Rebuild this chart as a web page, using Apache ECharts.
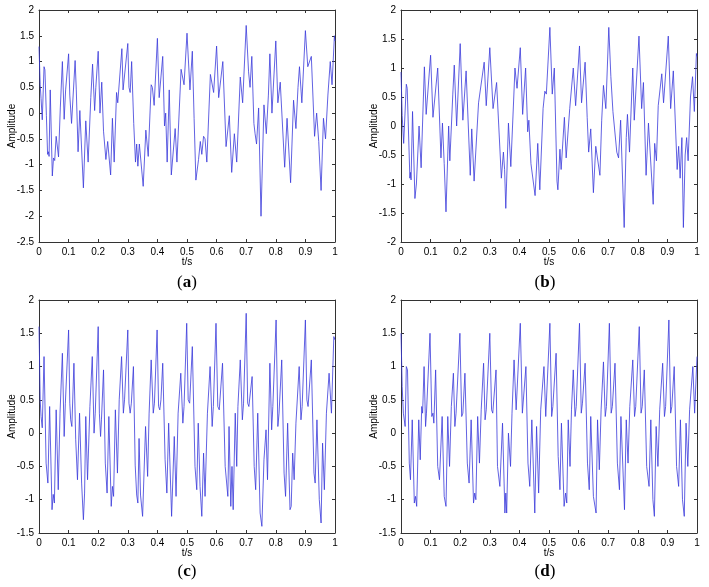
<!DOCTYPE html>
<html><head><meta charset="utf-8">
<script src="https://cdn.jsdelivr.net/npm/echarts@6/dist/echarts.min.js"></script>
<style>html,body{margin:0;padding:0;background:#fff}#c{width:709px;height:587px}</style>
</head><body><div id="c"></div>
<script>
// x axis ticks (t/s)
const tTicks = [0,0.1,0.2,0.3,0.4,0.5,0.6,0.7,0.8,0.9,1];
const yTicksA = [-2.5,-2,-1.5,-1,-0.5,0,0.5,1,1.5,2];
const yTicksB = [-2,-1.5,-1,-0.5,0,0.5,1,1.5,2];
const yTicksCD = [-1.5,-1,-0.5,0,0.5,1,1.5,2];
const captions = ['a','b','c','d'];

// (a) signal: [t, amplitude]
const sigA = [[0,1.29],[0.004,0.55],[0.007,0.28],[0.011,-0.13],[0.017,0.9],[0.02,0.84],[0.025,-0.05],[0.029,-0.8],[0.032,-0.75],[0.034,-0.84],[0.038,0.45],[0.045,-1.22],[0.049,-0.87],[0.053,-0.92],[0.058,-0.45],[0.066,-0.85],[0.072,0.1],[0.079,1.0],[0.085,-0.12],[0.09,0.45],[0.1,1.15],[0.104,0.35],[0.11,-0.2],[0.122,1.02],[0.126,0.45],[0.132,-0.75],[0.138,0.05],[0.15,-1.45],[0.158,-0.15],[0.166,-0.95],[0.175,0.3],[0.181,0.95],[0.188,0.05],[0.192,0.5],[0.2,1.2],[0.206,0.0],[0.212,0.6],[0.218,-0.35],[0.226,-0.9],[0.232,-0.55],[0.242,-1.2],[0.248,-0.1],[0.254,-0.95],[0.262,0.4],[0.266,0.2],[0.28,1.25],[0.284,0.45],[0.29,0.45],[0.3,1.35],[0.304,0.5],[0.308,0.4],[0.313,1.0],[0.32,-0.2],[0.326,-0.95],[0.33,-0.6],[0.334,-1.03],[0.339,-0.6],[0.352,-1.42],[0.361,-0.33],[0.369,-0.84],[0.379,0.55],[0.383,0.5],[0.389,0.15],[0.4,1.45],[0.406,0.3],[0.418,1.1],[0.424,-0.25],[0.428,0.0],[0.433,-0.95],[0.44,0.45],[0.447,-1.2],[0.46,-0.3],[0.466,-0.95],[0.48,0.85],[0.49,0.55],[0.5,1.55],[0.51,0.45],[0.518,1.2],[0.524,-0.1],[0.53,-1.3],[0.539,-0.9],[0.545,-0.55],[0.55,-0.8],[0.556,-0.45],[0.561,-0.5],[0.567,-0.95],[0.579,0.75],[0.59,0.4],[0.6,1.3],[0.607,0.3],[0.621,1.0],[0.632,-0.65],[0.643,-0.05],[0.651,-1.15],[0.66,-0.4],[0.668,-0.95],[0.68,0.7],[0.688,0.2],[0.7,1.7],[0.708,0.8],[0.713,0.5],[0.719,1.1],[0.726,-0.2],[0.73,-0.4],[0.735,-0.6],[0.742,0.1],[0.75,-2.0],[0.76,0.16],[0.768,-0.4],[0.775,0.35],[0.78,1.15],[0.787,0.0],[0.8,1.4],[0.807,0.2],[0.815,0.6],[0.83,-1.05],[0.838,-0.1],[0.85,-1.35],[0.86,0.25],[0.868,-0.3],[0.875,0.5],[0.88,0.9],[0.888,0.2],[0.9,1.6],[0.908,0.9],[0.92,1.1],[0.931,-0.45],[0.938,0.0],[0.945,-0.55],[0.953,-1.5],[0.961,-0.1],[0.968,-0.5],[0.976,0.35],[0.984,1.0],[0.99,0.55],[0.998,1.5],[1,1.4]];

// (b) signal
const sigB = [[0,0.93],[0.004,0.18],[0.009,-0.3],[0.018,0.72],[0.021,0.65],[0.03,-0.9],[0.032,-0.8],[0.034,-0.93],[0.039,0.25],[0.047,-1.25],[0.052,-1.0],[0.061,0.0],[0.068,-0.72],[0.079,1.02],[0.085,0.2],[0.1,1.22],[0.108,0.15],[0.124,1.0],[0.135,-0.55],[0.14,0.05],[0.146,-0.65],[0.152,-1.48],[0.161,0.0],[0.165,-0.6],[0.175,0.55],[0.18,1.05],[0.188,0.0],[0.2,1.42],[0.209,0.1],[0.22,0.95],[0.234,-0.85],[0.239,-0.05],[0.247,-0.95],[0.253,-0.92],[0.262,0.4],[0.281,1.1],[0.288,0.35],[0.3,1.35],[0.311,0.3],[0.323,0.75],[0.339,-0.9],[0.346,-0.45],[0.35,-0.75],[0.354,-1.42],[0.363,0.05],[0.371,-0.7],[0.381,0.5],[0.385,1.0],[0.392,0.65],[0.403,1.35],[0.411,0.2],[0.421,1.0],[0.428,-0.1],[0.432,0.1],[0.439,-0.65],[0.453,-1.2],[0.462,-0.3],[0.469,-1.1],[0.48,0.3],[0.486,0.6],[0.491,0.55],[0.503,1.7],[0.511,0.55],[0.518,1.0],[0.527,-0.95],[0.53,-1.1],[0.537,-0.4],[0.541,-0.75],[0.552,0.15],[0.558,-0.55],[0.57,0.3],[0.582,1.0],[0.59,0.35],[0.603,1.38],[0.61,0.4],[0.622,1.1],[0.629,0.15],[0.634,-0.45],[0.641,-0.05],[0.65,-1.15],[0.658,-0.35],[0.672,-0.85],[0.678,0.1],[0.684,0.7],[0.692,0.3],[0.702,1.7],[0.709,0.85],[0.716,0.25],[0.729,-0.45],[0.735,-0.55],[0.742,0.1],[0.754,-1.75],[0.761,-0.2],[0.765,0.2],[0.772,-0.45],[0.779,0.5],[0.783,1.0],[0.788,0.1],[0.804,1.55],[0.813,0.3],[0.819,0.75],[0.828,-0.85],[0.836,0.05],[0.852,-1.35],[0.857,-0.3],[0.863,-0.6],[0.869,0.35],[0.881,0.9],[0.887,0.4],[0.903,1.55],[0.911,0.3],[0.92,0.95],[0.933,-0.75],[0.938,-0.35],[0.943,-0.9],[0.949,-0.2],[0.954,-1.75],[0.96,-0.5],[0.965,-0.2],[0.97,-0.6],[0.978,0.5],[0.985,0.85],[0.991,0.25],[0.998,1.25],[1,1.2]];

// (c) signal
const sigC = [[0,1.6],[0.004,0.5],[0.007,0.25],[0.011,0.08],[0.017,1.15],[0.024,-0.45],[0.03,-0.75],[0.036,0.4],[0.044,-1.15],[0.048,-0.92],[0.052,-1.05],[0.058,0.35],[0.065,-0.85],[0.071,0.3],[0.079,1.2],[0.085,-0.05],[0.089,0.45],[0.1,1.55],[0.104,0.45],[0.107,0.2],[0.111,0.1],[0.118,1.05],[0.124,-0.1],[0.13,-0.7],[0.137,0.3],[0.144,-0.75],[0.15,-1.3],[0.154,-0.9],[0.158,0.25],[0.164,-0.7],[0.168,-0.7],[0.172,0.4],[0.18,1.15],[0.186,0.0],[0.19,0.3],[0.2,1.6],[0.204,0.3],[0.208,-0.05],[0.211,0.2],[0.218,0.95],[0.224,-0.45],[0.23,-0.9],[0.236,0.25],[0.244,-1.1],[0.248,-0.8],[0.252,-0.95],[0.258,0.35],[0.265,-0.6],[0.271,0.5],[0.279,1.15],[0.285,0.3],[0.289,0.5],[0.3,1.55],[0.304,0.45],[0.308,0.3],[0.312,0.45],[0.319,1.0],[0.325,-0.48],[0.33,-0.93],[0.334,-1.05],[0.338,-0.08],[0.343,-0.93],[0.35,-1.25],[0.36,0.1],[0.367,-0.65],[0.372,0.3],[0.379,1.1],[0.386,0.3],[0.39,0.45],[0.399,1.55],[0.404,0.4],[0.408,0.35],[0.412,0.5],[0.418,1.05],[0.426,-0.4],[0.432,-0.9],[0.438,0.15],[0.448,-1.25],[0.457,-0.05],[0.463,-0.95],[0.47,0.3],[0.479,0.9],[0.486,0.15],[0.49,0.4],[0.499,1.65],[0.504,0.5],[0.509,0.45],[0.518,1.3],[0.527,-0.5],[0.533,-0.85],[0.538,0.15],[0.544,-0.8],[0.55,-1.25],[0.556,-0.3],[0.561,-0.95],[0.569,0.3],[0.578,1.0],[0.585,0.1],[0.589,0.4],[0.598,1.65],[0.604,0.4],[0.609,0.35],[0.62,1.05],[0.629,-0.5],[0.638,-0.95],[0.642,0.1],[0.648,-1.1],[0.652,-0.5],[0.656,-1.15],[0.663,0.3],[0.668,-0.5],[0.672,0.4],[0.68,1.1],[0.687,0.2],[0.691,0.45],[0.7,1.8],[0.705,0.45],[0.709,0.4],[0.72,0.85],[0.727,-0.5],[0.732,-0.85],[0.739,0.3],[0.747,-1.2],[0.753,-1.4],[0.76,-0.4],[0.767,0.05],[0.772,-0.7],[0.78,1.05],[0.786,0.05],[0.79,0.4],[0.801,1.7],[0.807,0.1],[0.811,0.3],[0.82,1.1],[0.828,-0.6],[0.833,-0.95],[0.84,0.15],[0.848,-1.15],[0.852,-1.1],[0.857,-0.3],[0.862,-0.7],[0.868,0.15],[0.879,1.0],[0.885,0.2],[0.889,0.4],[0.9,1.7],[0.905,0.5],[0.909,0.4],[0.92,1.1],[0.929,-0.6],[0.933,-0.75],[0.939,0.2],[0.947,-1.0],[0.953,-1.35],[0.958,-0.15],[0.964,-0.85],[0.971,0.3],[0.98,0.9],[0.988,0.3],[0.996,1.45],[1,1.4]];

// (d) signal
const sigD = [[0,1.5],[0.004,0.7],[0.008,0.3],[0.011,0.32],[0.014,0.1],[0.018,1.0],[0.022,0.95],[0.028,-0.45],[0.032,-0.7],[0.038,0.2],[0.045,-1.05],[0.049,-0.95],[0.053,-1.1],[0.06,0.2],[0.065,-0.4],[0.07,0.4],[0.073,0.3],[0.078,1.0],[0.083,0.1],[0.086,0.3],[0.098,1.5],[0.104,0.25],[0.108,0.3],[0.111,0.15],[0.117,0.95],[0.124,-0.5],[0.13,-0.7],[0.139,0.25],[0.146,-0.95],[0.152,-1.1],[0.158,0.25],[0.164,-0.5],[0.17,0.4],[0.177,0.9],[0.182,0.1],[0.186,0.3],[0.199,1.5],[0.205,0.25],[0.209,0.3],[0.216,0.9],[0.224,-0.45],[0.23,-0.75],[0.237,0.2],[0.245,-1.05],[0.249,-0.9],[0.253,-1.0],[0.259,0.25],[0.265,-0.45],[0.271,0.35],[0.279,1.05],[0.284,0.2],[0.288,0.35],[0.3,1.5],[0.306,0.35],[0.31,0.3],[0.321,0.95],[0.326,-0.5],[0.334,-0.8],[0.343,0.15],[0.351,-1.2],[0.354,-0.9],[0.357,-1.2],[0.363,0.0],[0.37,-0.5],[0.375,0.3],[0.382,1.1],[0.389,0.35],[0.403,1.65],[0.41,0.3],[0.422,1.0],[0.429,-0.45],[0.435,-0.8],[0.442,0.2],[0.452,-1.2],[0.458,0.1],[0.465,-0.9],[0.472,0.35],[0.483,1.0],[0.489,0.25],[0.503,1.65],[0.509,0.25],[0.513,0.4],[0.524,1.2],[0.531,-0.35],[0.537,-0.85],[0.542,0.15],[0.551,-1.1],[0.556,-0.9],[0.56,-1.05],[0.565,0.2],[0.571,-0.5],[0.576,0.35],[0.582,0.95],[0.588,0.25],[0.592,0.4],[0.603,1.65],[0.609,0.3],[0.613,0.45],[0.622,1.05],[0.63,-0.45],[0.636,-0.85],[0.641,0.25],[0.65,-0.95],[0.659,-1.2],[0.664,0.2],[0.67,-0.55],[0.676,0.35],[0.684,1.07],[0.69,0.25],[0.694,0.4],[0.704,1.65],[0.71,0.3],[0.714,0.4],[0.723,1.05],[0.731,-0.45],[0.738,-0.85],[0.743,0.25],[0.755,-1.15],[0.761,0.2],[0.767,-0.45],[0.773,0.4],[0.783,1.1],[0.789,0.25],[0.793,0.4],[0.805,1.6],[0.811,0.3],[0.815,0.4],[0.822,0.95],[0.83,-0.5],[0.838,-0.8],[0.844,0.2],[0.851,-1.0],[0.856,-1.25],[0.862,0.1],[0.868,-0.5],[0.874,0.35],[0.884,1.05],[0.89,0.25],[0.894,0.4],[0.905,1.7],[0.911,0.3],[0.915,0.4],[0.923,1.0],[0.931,-0.5],[0.938,-0.8],[0.944,0.2],[0.951,-1.0],[0.957,-1.25],[0.963,0.15],[0.969,-0.5],[0.975,0.35],[0.986,1.0],[0.992,0.3],[1,1.15]];

const signals = [sigA, sigB, sigC, sigD];
const yTicks = [yTicksA, yTicksB, yTicksCD, yTicksCD];

const grids = [
  {left: 39, top: 10, width: 296, height: 232},
  {left: 401, top: 10, width: 296, height: 232},
  {left: 39, top: 300, width: 296, height: 233},
  {left: 401, top: 300, width: 296, height: 233}
];
const capPos = [[187, 283], [545, 283], [187, 572], [545, 572]];

const AX = '#333';
const FONT = 'Liberation Sans, Arial, sans-serif';
const xAxes = [], yAxes = [], series = [], graphics = [];
grids.forEach((g, i) => {
  const yt = yTicks[i];
  const ymin = yt[0], ymax = yt[yt.length - 1];
  const common = {
    axisLine: {show: true, onZero: false, lineStyle: {color: AX, width: 1}},
    axisTick: {show: true, inside: true, length: 3, lineStyle: {color: AX}},
    splitLine: {show: false}
  };
  xAxes.push(Object.assign({}, common, {
    type: 'value', gridIndex: i, position: 'bottom', min: tTicks[0], max: tTicks[tTicks.length - 1], interval: 0.1,
    axisLabel: {show: true, fontSize: 10, color: '#000', margin: 5, fontFamily: FONT,
      formatter: v => String(+v.toFixed(2))},
    name: 't/s', nameLocation: 'middle', nameGap: 15, nameMoveOverlap: false,
    nameTextStyle: {fontSize: 10, color: '#000', fontFamily: FONT}
  }));
  xAxes.push(Object.assign({}, common, {
    type: 'value', gridIndex: i, position: 'top', min: tTicks[0], max: tTicks[tTicks.length - 1], interval: 0.1,
    axisLabel: {show: false}
  }));
  yAxes.push(Object.assign({}, common, {
    type: 'value', gridIndex: i, position: 'left', min: ymin, max: ymax, interval: 0.5,
    axisLabel: {show: true, fontSize: 10, color: '#000', margin: 5, fontFamily: FONT,
      formatter: v => String(+v.toFixed(2))},
    name: 'Amplitude', nameLocation: 'middle', nameGap: 22, nameMoveOverlap: false,
    nameTextStyle: {fontSize: 10, color: '#000', fontFamily: FONT}
  }));
  yAxes.push(Object.assign({}, common, {
    type: 'value', gridIndex: i, position: 'right', min: ymin, max: ymax, interval: 0.5,
    axisLabel: {show: false}
  }));
  series.push({
    type: 'line', xAxisIndex: 2 * i, yAxisIndex: 2 * i, data: signals[i],
    showSymbol: false, symbol: 'none', smooth: false, animation: false,
    lineStyle: {color: '#3a3adb', width: 0.8}
  });
  graphics.push({
    type: 'text', x: capPos[i][0], y: capPos[i][1],
    style: {
      text: '{n|(}{b|' + captions[i] + '}{n|)}',
      align: 'center', verticalAlign: 'middle',
      rich: {
        n: {fontSize: 17, fontFamily: 'Liberation Serif, serif', fill: '#000', color: '#000'},
        b: {fontSize: 17, fontFamily: 'Liberation Serif, serif', fontWeight: 'bold', fill: '#000', color: '#000'}
      }
    }
  });
});

const chart = echarts.init(document.getElementById('c'), null, {renderer: 'canvas'});
chart.setOption({
  backgroundColor: '#fff',
  animation: false,
  grid: grids.map(g => Object.assign({containLabel: false}, g)),
  xAxis: xAxes,
  yAxis: yAxes,
  series: series,
  graphic: graphics
});
</script>
</body></html>
